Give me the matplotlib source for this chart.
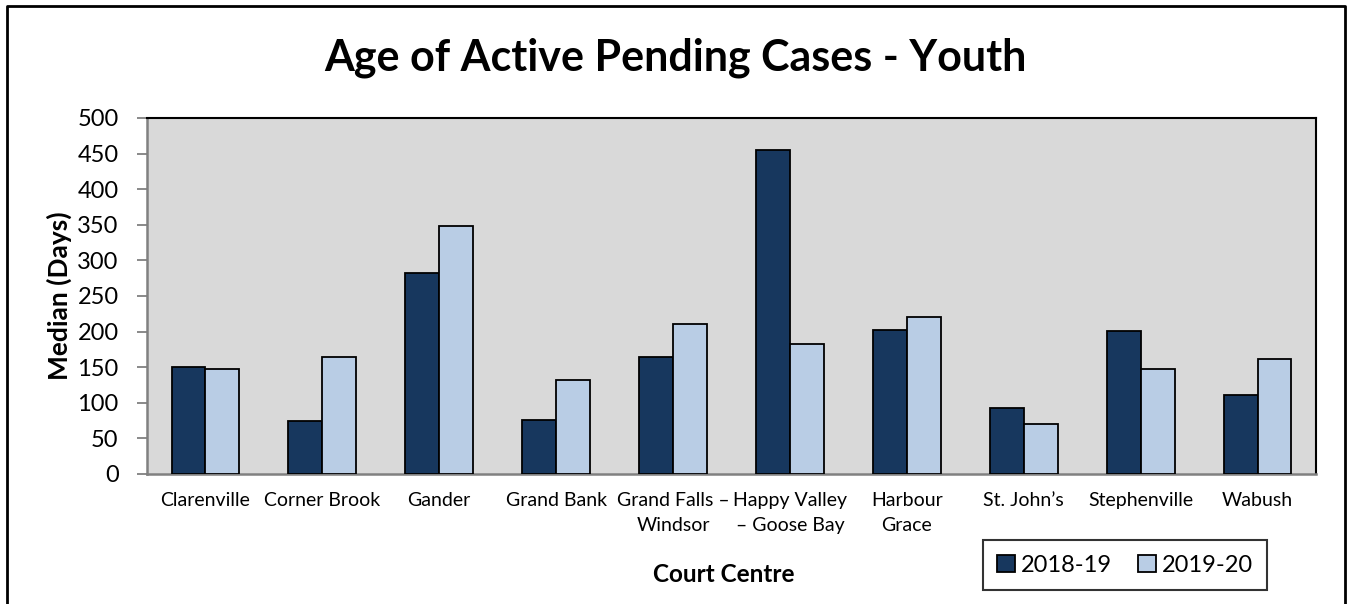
import numpy as np
import matplotlib
matplotlib.use("Agg")
import matplotlib.pyplot as plt
from matplotlib.lines import Line2D

# data
centres = ["Clarenville", "Corner Brook", "Gander", "Grand Bank",
           "Grand Falls \u2013\nWindsor", "Happy Valley\n\u2013 Goose Bay",
           "Harbour\nGrace", "St. John\u2019s", "Stephenville", "Wabush"]
y2018 = [150, 74, 283, 76, 165, 455, 202, 92, 201, 111]
y2019 = [148, 164, 348, 132, 210, 182, 221, 70, 148, 161]
series = ["2018-19", "2019-20"]
yticks = list(range(0, 501, 50))

plt.rcParams['font.family'] = ['Lato', 'DejaVu Sans']

W, H = 1352, 604
fig = plt.figure(figsize=(W / 100, H / 100), dpi=100)
ax = fig.add_axes([147 / W, 1 - 474 / H, (1316 - 147) / W, (474 - 118) / H])

x = np.arange(len(centres))
bw = 0.29
ax.bar(x - bw / 2, y2018, bw, color="#17375E", edgecolor="black", linewidth=1.3, label=series[0], zorder=3)
ax.bar(x + bw / 2, y2019, bw, color="#B9CDE5", edgecolor="black", linewidth=1.3, label=series[1], zorder=3)

ax.set_facecolor("#D9D9D9")
ax.set_xlim(-0.5, len(centres) - 0.5)
ax.set_ylim(0, 500)
ax.set_yticks(yticks)
ax.tick_params(axis="y", labelsize=17, length=7.5, width=1.3, color="#808080", pad=13)
ax.set_xticks(x)
ax.set_xticklabels(centres, fontsize=14, linespacing=1.6)
ax.tick_params(axis="x", length=0, pad=13)
for s in ["left", "bottom"]:
    ax.spines[s].set_color("#808080")
    ax.spines[s].set_linewidth(1.8)
for s in ["top", "right"]:
    ax.spines[s].set_color("black")
    ax.spines[s].set_linewidth(1.5)

ax.set_ylabel("Median (Days)", fontsize=19, fontweight="bold")
ax.yaxis.set_label_coords((72 - 147) / (1316 - 147), 0.5)
fig.text(724 / W, 1 - 574 / H, "Court Centre", fontsize=17.5, fontweight="bold", ha="center", va="center")
fig.text(675 / W, 1 - 58 / H, "Age of Active Pending Cases - Youth", fontsize=31, fontweight="bold",
         ha="center", va="center")

leg = fig.legend(loc="center", bbox_to_anchor=(1125 / W, 1 - 565 / H), ncol=2, fontsize=17,
                 frameon=True, fancybox=False, edgecolor="black", handlelength=0.75, handleheight=0.75,
                 columnspacing=1.1, handletextpad=0.25, borderpad=0.6)
leg.get_frame().set_linewidth(1.5)

# frame round the chart (left, top, right; runs past the bottom edge)
fx = [7 / W, 7 / W, 1345 / W, 1345 / W]
fy = [-0.01, 1 - 6 / H, 1 - 6 / H, -0.01]
fig.lines.append(Line2D(fx, fy, transform=fig.transFigure, color="black", linewidth=2))

fig.savefig("out.png", dpi=100)
